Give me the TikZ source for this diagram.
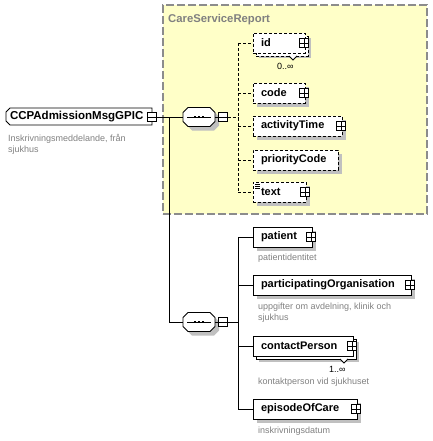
\documentclass[tikz,border=0pt]{standalone}
\usepackage{fontspec}
\setmainfont{Liberation Sans}
\usetikzlibrary{shadows}
\definecolor{grpfill}{HTML}{FFFFC8}
\definecolor{grpline}{HTML}{8C8C8C}
\definecolor{shd}{HTML}{C0C0C0}
\definecolor{desc}{HTML}{808080}
\newcommand\seqoct[3]{([shift={(5+#2,#3)}]#1.north west) -- ([shift={(-5+#2,#3)}]#1.north east) -- ([shift={(#2,5+#3)}]#1.north east) -- ([shift={(#2,-5+#3)}]#1.south east) -- ([shift={(-5+#2,#3)}]#1.south east) -- ([shift={(5+#2,#3)}]#1.south west) -- ([shift={(#2,-5+#3)}]#1.south west) -- ([shift={(#2,5+#3)}]#1.north west) -- cycle}
\newcommand\drawseq[1]{%
  \fill[shd] \seqoct{#1}{4}{4};
  \draw[ln,fill=white] \seqoct{#1}{0}{0};
  \draw[ln] ([xshift=-12pt]#1.center) -- ([xshift=12pt]#1.center);
  \foreach \d in {-4,0,4} {\fill ([xshift=\d pt]#1.center) +(-1.4,-1.4) rectangle +(1.4,1.4);}
}
\begin{document}
\begin{tikzpicture}[x=1pt,y=-1pt,
  ln/.style={line width=0.9pt},
  elem/.style={draw, fill=white, rectangle, anchor=north west, minimum height=20pt,
    inner xsep=8pt, inner ysep=0pt, outer sep=0pt, align=left,
    font=\fontsize{11}{13}\selectfont\bfseries, line width=0.9pt},
  opt/.style={dash pattern=on 3pt off 2pt},
  sh/.style={drop shadow={shadow xshift=4pt, shadow yshift=-4pt, fill=shd, opacity=1}},
  shb/.style={drop shadow={shadow xshift=2.5pt, shadow yshift=-2.5pt, fill=shd, opacity=1}},
  plusbox/.style={draw, fill=white, rectangle, minimum size=9pt, inner sep=0pt, outer sep=0pt, line width=0.8pt,
    path picture={\draw[line width=0.8pt] (path picture bounding box.west) -- (path picture bounding box.east)
      (path picture bounding box.north) -- (path picture bounding box.south);}},
  minusbox/.style={draw, fill=white, rectangle, minimum size=9pt, inner sep=0pt, outer sep=0pt, line width=0.8pt,
    path picture={\draw[line width=0.8pt] (path picture bounding box.west) -- (path picture bounding box.east);}},
  seqn/.style={rectangle, minimum width=32pt, minimum height=19pt, inner sep=0pt, outer sep=0pt},
  dsc/.style={anchor=base west, inner sep=0pt, text=desc, font=\fontsize{9}{11}\selectfont},
  card/.style={anchor=base west, inner sep=0pt, font=\fontsize{9}{11}\selectfont},
  dconn/.style={line width=0.8pt, dash pattern=on 3pt off 2pt},
  sconn/.style={line width=0.9pt}
]
\useasboundingbox (0,0) rectangle (432,441);

% group box
\node[draw=grpline, fill=grpfill, dash pattern=on 8pt off 3pt, line width=1.3pt,
  minimum width=264pt, minimum height=209pt, anchor=north west, inner sep=0pt, outer sep=0pt] (grp) at (163,5) {};
\node[anchor=base west, inner sep=0pt, text=desc, font=\fontsize{11.3}{13}\selectfont\bfseries] (grplbl) at (168,23) {CareServiceReport};

% root element
\node[anchor=north west, rectangle, minimum width=146pt, minimum height=17pt, inner xsep=4pt, inner ysep=0pt,
  outer sep=0pt, text width=138pt, align=left, font=\fontsize{11.5}{13}\selectfont\bfseries] (root) at (6,108) {CCPAdmissionMsgGPIC};
\draw[ln] ([xshift=4pt]root.north west) -- (root.north east) -- (root.south east) -- ([xshift=4pt]root.south west)
  -- ([yshift=4pt]root.south west) -- ([yshift=-4pt]root.north west) -- cycle;
\node[minusbox] (rootm) at (152,117) {};
\node[dsc] (rootd1) at (8,141) {Inskrivningsmeddelande, från};
\node[dsc] (rootd2) at (8,152) {sjukhus};

% compositors
\node[seqn] (s1) at (199,117) {};
\node[seqn] (s2) at (199,322) {};
\coordinate (j1) at (169,117);
\draw[sconn] (rootm.east) -- (s1.west);
\draw[sconn] (j1) |- (s2.west);
\drawseq{s1}
\drawseq{s2}
\node[minusbox] (s1m) at (223,117) {};
\node[minusbox] (s2m) at (223,322) {};
\draw[sconn] (s1.east) -- (s1m.west);
\draw[sconn] (s2.east) -- (s2m.west);

% ---- first sequence children (optional) ----
\node[elem, opt, shb, minimum width=52pt, text width=36pt] (idb) at (256,36) {\phantom{id}};
\node[elem, opt, minimum width=52pt, text width=36pt] (id) at (253,33) {id};
\node[plusbox] (idp) at (304,43) {};
\coordinate (idn) at (293,56);
\draw[line width=0.8pt, fill=white] ([xshift=-4pt]idn) -- ++(4,4) -- ++(4,-4);
\node[card] (idc) at (277,70) {0..∞};

\node[elem, opt, sh, minimum width=52pt, text width=36pt] (code) at (253,83) {code};
\node[plusbox] (codep) at (304,93) {};

\node[elem, opt, sh, minimum width=89pt, text width=73pt] (act) at (253,116) {activityTime};
\node[plusbox] (actp) at (341,126) {};

\node[elem, opt, sh, minimum width=85pt, text width=69pt] (prio) at (253,150) {priorityCode};

\node[elem, opt, sh, minimum width=53pt, text width=37pt] (txt) at (253,182) {text};
\node[plusbox] (txtp) at (305,192) {};
\draw[line width=0.7pt] ([shift={(2,2)}]txt.north west) -- ++(5,0)
  ([shift={(2,4)}]txt.north west) -- ++(5,0)
  ([shift={(2,6)}]txt.north west) -- ++(5,0);

\coordinate (v1) at (238,117);
\draw[dconn] (s1m.east) -- (v1);
\draw[dconn] (id.west -| v1) -- (txt.west -| v1);
\foreach \n in {id,code,act,prio,txt} {\draw[dconn] (\n.west -| v1) -- (\n.west);}

% ---- second sequence children ----
\node[elem, sh, minimum width=59pt, text width=43pt] (pat) at (253,227) {patient};
\node[plusbox] (patp) at (311,237) {};
\node[dsc] (patd) at (258,260) {patientidentitet};

\node[elem, sh, minimum width=158pt, text width=142pt] (org) at (253,275) {participatingOrganisation};
\node[plusbox] (orgp) at (410,285) {};
\node[dsc] (orgd1) at (258,309) {uppgifter om avdelning, klinik och};
\node[dsc] (orgd2) at (258,320) {sjukhus};

\node[elem, shb, minimum width=100pt, text width=84pt] (cpb) at (256,339) {\phantom{c}};
\node[elem, minimum width=100pt, text width=84pt] (cp) at (253,336) {contactPerson};
\node[plusbox] (cpp) at (352,346) {};
\coordinate (cpn) at (344,359);
\draw[line width=0.8pt, fill=white] ([xshift=-4pt]cpn) -- ++(4,4) -- ++(4,-4);
\node[card] (cpc) at (329,372) {1..∞};
\node[dsc] (cpd) at (258,384) {kontaktperson vid sjukhuset};

\node[elem, sh, minimum width=104pt, text width=88pt] (epi) at (253,399) {episodeOfCare};
\node[plusbox] (epip) at (356,409) {};
\node[dsc] (epid) at (258,433) {inskrivningsdatum};

\coordinate (v2) at (238,322);
\draw[sconn] (s2m.east) -- (v2);
\draw[sconn] (pat.west -| v2) -- (epi.west -| v2);
\foreach \n in {pat,org,cp,epi} {\draw[sconn] (\n.west -| v2) -- (\n.west);}
\end{tikzpicture}
\end{document}
